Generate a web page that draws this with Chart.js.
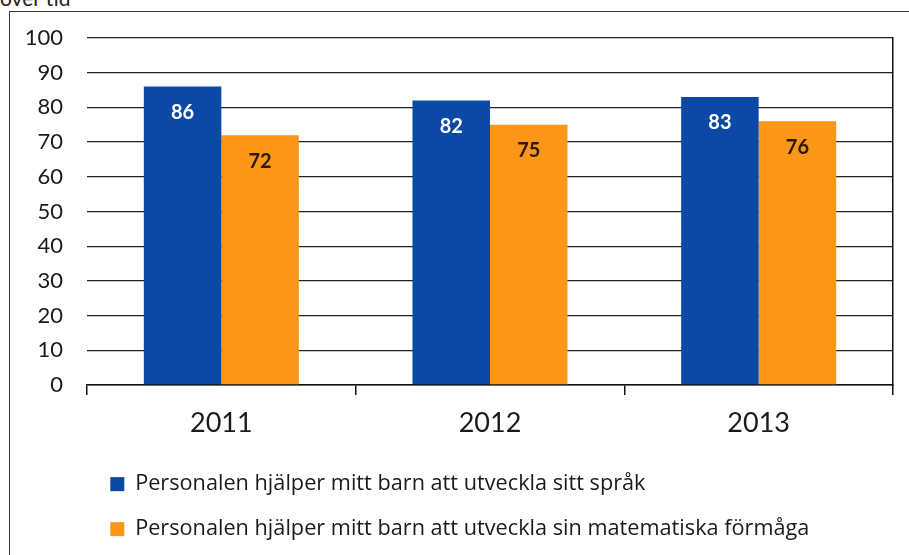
<!DOCTYPE html>
<html>
<head>
<meta charset="utf-8">
<script src="https://cdn.jsdelivr.net/npm/chart.js@4/dist/chart.umd.min.js"></script>
<style>
  html, body { margin: 0; padding: 0; background: #fff; overflow: hidden; }
  #wrap { position: relative; width: 909px; height: 555px; overflow: hidden; }
  #frame { position: absolute; left: 9px; top: 11px; width: 1000px; height: 1000px;
           border-left: 1.5px solid #3a3a3a; border-top: 1.5px solid #3a3a3a; }
  #cap { position: absolute; left: 0px; top: -13px; font: 21px Lato, sans-serif; color: #222; line-height: 1; }
  canvas { position: absolute; left: 0; top: 0; }
</style>
</head>
<body>
<div id="wrap">
  <div id="cap">över tid</div>
  <div id="frame"></div>
  <canvas id="c" width="909" height="555"></canvas>
</div>
<script>
const categories = ["2011", "2012", "2013"];
const seriesNames = [
  "Personalen hjälper mitt barn att utveckla sitt språk",
  "Personalen hjälper mitt barn att utveckla sin matematiska förmåga"
];
const languageValues = [86, 82, 83];
const mathValues = [72, 75, 76];
const yTicks = [0, 10, 20, 30, 40, 50, 60, 70, 80, 90, 100];

const BLUE = "#0b49a6";
const ORANGE = "#fb9619";

const labelPlugin = {
  id: "barLabels",
  afterDatasetsDraw(chart) {
    const ctx = chart.ctx;
    ctx.save();
    ctx.font = "bold 20px Lato, sans-serif";
    ctx.textAlign = "center";
    ctx.textBaseline = "middle";
    chart.data.datasets.forEach((ds, i) => {
      const meta = chart.getDatasetMeta(i);
      ctx.fillStyle = i === 0 ? "#ffffff" : "#2a1a0a";
      meta.data.forEach((el, j) => {
        ctx.fillText(String(ds.data[j]), el.x, el.y + 26);
      });
    });
    ctx.restore();
  }
};

new Chart(document.getElementById("c"), {
  type: "bar",
  data: {
    labels: categories,
    datasets: [
      { label: seriesNames[0], data: languageValues, backgroundColor: BLUE },
      { label: seriesNames[1], data: mathValues, backgroundColor: ORANGE }
    ]
  },
  options: {
    responsive: false,
    animation: false,
    devicePixelRatio: 1,
    layout: { padding: { left: 0, right: 16, top: 38, bottom: 5 } },
    datasets: { bar: { categoryPercentage: 0.577, barPercentage: 1.0 } },
    plugins: {
      tooltip: { enabled: false },
      legend: {
        position: "bottom",
        align: "start",
        fullSize: false,
        labels: {
          boxWidth: 14,
          boxHeight: 14,
          padding: 23.3,
          color: "#1a1a1a",
          font: { family: "'Open Sans'", size: 21.7 }
        }
      }
    },
    scales: {
      x: {
        grid: { offset: true, drawOnChartArea: false, drawTicks: true, tickLength: 10, color: "#111", lineWidth: 1.5 },
        border: { display: true, color: "#111", width: 1.5 },
        ticks: { color: "#1a1a1a", font: { family: "Lato", size: 27 }, padding: 12 },
        afterFit(scale) { scale.height = 65; }
      },
      y: {
        min: 0, max: 100,
        afterBuildTicks(scale) { scale.ticks = yTicks.map(v => ({ value: v })); },
        grid: { color: "#222", lineWidth: 1.3, drawTicks: false },
        border: { display: false },
        ticks: { color: "#1a1a1a", font: { family: "Lato", size: 22 }, padding: 24 },
        afterFit(scale) { scale.width = 87; }
      },
      y2: {
        position: "right",
        min: 0, max: 100,
        grid: { drawOnChartArea: false, drawTicks: false },
        border: { display: true, color: "#111", width: 1.5 },
        ticks: { display: false },
        afterFit(scale) { scale.width = 0; }
      }
    }
  },
  plugins: [labelPlugin]
});
</script>
</body>
</html>
